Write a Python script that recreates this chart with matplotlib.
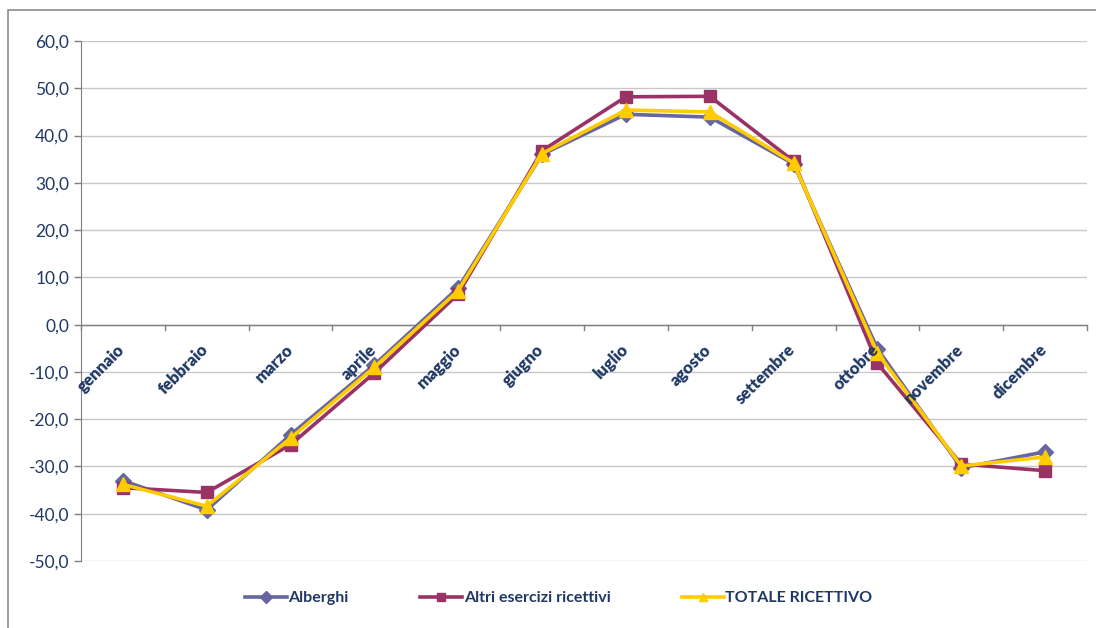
import numpy as np
import matplotlib.pyplot as plt
from matplotlib.patches import Rectangle
from matplotlib.ticker import FuncFormatter

mesi = ['gennaio', 'febbraio', 'marzo', 'aprile', 'maggio', 'giugno',
        'luglio', 'agosto', 'settembre', 'ottobre', 'novembre', 'dicembre']
alberghi = [-33.0, -39.2, -23.3, -8.5, 7.8, 36.0, 44.5, 43.9, 34.0, -5.1, -30.3, -26.9]
altri = [-34.5, -35.5, -25.4, -10.2, 6.5, 36.8, 48.2, 48.3, 34.6, -8.2, -29.5, -30.9]
totale = [-33.8, -38.4, -24.0, -9.0, 7.2, 36.2, 45.4, 45.0, 34.2, -6.0, -29.9, -28.0]

blu = '#1F3864'

plt.rcParams['font.family'] = ['Lato', 'DejaVu Sans']

fig = plt.figure(figsize=(10.96, 6.28), dpi=100)
ax = fig.add_axes([0.0739, 0.1067, 0.9179, 0.828])

# cornice esterna grigia
fig.patches.append(Rectangle((8 / 1096, -0.05), 1.2, 1.05 - 10 / 628, transform=fig.transFigure,
                             fill=False, edgecolor='#8c8c8c', linewidth=1.2))

x = np.arange(len(mesi))
ax.plot(x, alberghi, color='#6666A0', marker='D', markersize=8, linewidth=2.6,
        label='Alberghi', zorder=3)
ax.plot(x, altri, color='#993366', marker='s', markersize=9, linewidth=2.6,
        label='Altri esercizi ricettivi', zorder=4)
ax.plot(x, totale, color='#FFCC00', marker='^', markersize=10, linewidth=2.6,
        label='TOTALE RICETTIVO', zorder=5)

ax.set_xlim(-0.5, len(mesi) - 0.5)
ax.set_ylim(-50, 60)
ax.set_yticks(np.arange(-50, 61, 10))
ax.yaxis.set_major_formatter(FuncFormatter(lambda v, p: f'{v:.1f}'.replace('.', ',')))
ax.tick_params(axis='y', colors='#7f7f7f', labelcolor=blu, labelsize=12.5, length=5, width=1)
ax.grid(axis='y', color='#c8c8c8', linewidth=1)
ax.set_axisbelow(True)

for s in ['top', 'right', 'bottom']:
    ax.spines[s].set_visible(False)
ax.spines['left'].set_color('#7f7f7f')

# asse delle categorie sullo zero
ax.axhline(0, color='#7f7f7f', linewidth=1, zorder=2)
ax.set_xticks([])
for b in np.arange(-0.5, len(mesi), 1.0):
    ax.plot([b, b], [0, -1.1], color='#7f7f7f', linewidth=1, zorder=2, clip_on=False)
for i, m in enumerate(mesi):
    ax.text(i + 0.06, -3.6, m, rotation=45, ha='right', va='top', fontsize=12,
            fontweight='heavy', color=blu, zorder=6)

leg = ax.legend(loc='upper center', bbox_to_anchor=(0.475, -0.03), ncol=3, frameon=False,
                fontsize=11.5, handlelength=2.6, columnspacing=4.5, handletextpad=0.1)
for t in leg.get_texts():
    t.set_color(blu)
    t.set_fontweight('bold')
for h in leg.legend_handles:
    h.set_markersize(6)

fig.savefig('out.png', dpi=100)
